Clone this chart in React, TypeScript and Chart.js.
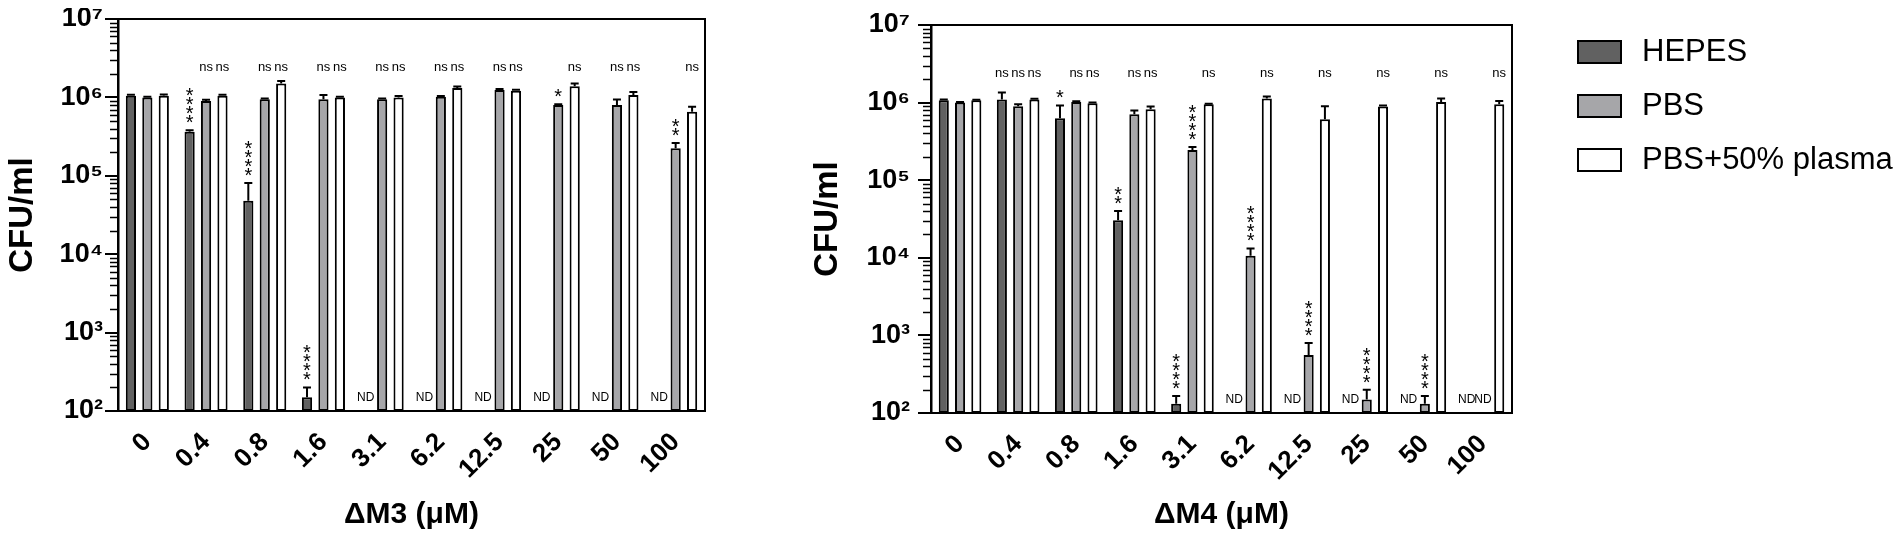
import { useEffect, useRef } from 'react';
import { Chart, registerables } from 'chart.js';

Chart.register(...registerables);

const FONT = '"Liberation Sans", Arial, Helvetica, sans-serif';

const doses = ['0', '0.4', '0.8', '1.6', '3.1', '6.2', '12.5', '25', '50', '100'];
const seriesNames = ['HEPES', 'PBS', 'PBS+50% plasma'];
const seriesColors = ['#616161', '#a6a6a9', '#ffffff'];

const yExponents = [2, 3, 4, 5, 6, 7];
const superscripts = ['⁰', '¹', '²', '³', '⁴', '⁵', '⁶', '⁷'];
const nsLevel = 2.4e6;

// ΔM3 panel
const m3Hepes = [1.05e6, 3.64e5, 4.8e4, 150, null, null, null, null, null, null];
const m3HepesErr = [1.08e6, 3.8e5, 8.1e4, 200, null, null, null, null, null, null];
const m3HepesMarks = ['', '****', '****', '****', 'ND', 'ND', 'ND', 'ND', 'ND', 'ND'];
const m3Pbs = [1.0e6, 9.0e5, 9.5e5, 9.5e5, 9.5e5, 1.02e6, 1.24e6, 8.0e5, 8.0e5, 2.24e5];
const m3PbsErr = [1.02e6, 9.3e5, 9.7e5, 1.07e6, 9.7e5, 1.04e6, 1.28e6, 8.2e5, 9.4e5, 2.63e5];
const m3PbsMarks = ['', 'ns', 'ns', 'ns', 'ns', 'ns', 'ns', '*', 'ns', '**'];
const m3Plasma = [1.05e6, 1.05e6, 1.5e6, 1.0e6, 1.0e6, 1.32e6, 1.22e6, 1.39e6, 1.07e6, 6.55e5];
const m3PlasmaErr = [1.09e6, 1.08e6, 1.62e6, 1.02e6, 1.04e6, 1.38e6, 1.25e6, 1.5e6, 1.17e6, 7.6e5];
const m3PlasmaMarks = ['', 'ns', 'ns', 'ns', 'ns', 'ns', 'ns', 'ns', 'ns', 'ns'];

// ΔM4 panel
const m4Hepes = [1.07e6, 1.1e6, 6.3e5, 3.05e4, 132, null, null, null, null, null];
const m4HepesErr = [1.1e6, 1.35e6, 9.2e5, 4.0e4, 166, null, null, null, null, null];
const m4HepesMarks = ['', 'ns', '*', '**', '****', 'ND', 'ND', 'ND', 'ND', 'ND'];
const m4Pbs = [1.0e6, 9.0e5, 1.02e6, 7.07e5, 2.45e5, 1.06e4, 557, 149, 132, null];
const m4PbsErr = [1.02e6, 9.5e5, 1.04e6, 7.9e5, 2.68e5, 1.32e4, 800, 200, 166, null];
const m4PbsMarks = ['', 'ns', 'ns', 'ns', '****', '****', '****', '****', '****', 'ND'];
const m4Plasma = [1.07e6, 1.1e6, 9.8e5, 8.2e5, 9.5e5, 1.13e6, 6.1e5, 8.9e5, 1.02e6, 9.5e5];
const m4PlasmaErr = [1.09e6, 1.12e6, 1.0e6, 8.9e5, 9.7e5, 1.2e6, 9.0e5, 9.2e5, 1.13e6, 1.05e6];
const m4PlasmaMarks = ['', 'ns', 'ns', 'ns', 'ns', 'ns', 'ns', 'ns', 'ns', 'ns'];

// error bars, significance marks, plot frame and minor log ticks
const markPlugin = {
  id: 'marks',
  afterDatasetsDraw(chart: any) {
    const { ctx, chartArea, scales } = chart;
    const y = scales.y;
    ctx.save();
    ctx.strokeStyle = '#000';
    ctx.lineWidth = 2;
    ctx.strokeRect(chartArea.left, chartArea.top, chartArea.right - chartArea.left, chartArea.bottom - chartArea.top);

    ctx.lineWidth = 1.5;
    for (let e = 2; e < 7; e++) {
      for (let m = 2; m <= 9; m++) {
        const py = Math.round(y.getPixelForValue(m * Math.pow(10, e))) + 0.5;
        ctx.beginPath();
        ctx.moveTo(chartArea.left - 8, py);
        ctx.lineTo(chartArea.left, py);
        ctx.stroke();
      }
    }

    ctx.font = `20px ${FONT}`;
    const star = ctx.measureText('*');
    const starMid = (star.actualBoundingBoxAscent - star.actualBoundingBoxDescent) / 2;

    chart.data.datasets.forEach((ds: any, i: number) => {
      const meta = chart.getDatasetMeta(i);
      meta.data.forEach((bar: any, j: number) => {
        const x = bar.x;
        const v = ds.data[j];
        const err = ds.errors[j];
        const mark = ds.marks[j];
        let top = chartArea.bottom;
        if (v != null) {
          top = y.getPixelForValue(v);
          if (err != null && err > v) {
            const ey = y.getPixelForValue(err);
            ctx.lineWidth = 2;
            ctx.strokeStyle = '#000';
            ctx.beginPath();
            ctx.moveTo(x, top);
            ctx.lineTo(x, ey);
            ctx.moveTo(x - 4, ey);
            ctx.lineTo(x + 4, ey);
            ctx.stroke();
            top = ey;
          }
        }
        ctx.fillStyle = '#000';
        ctx.textAlign = 'center';
        if (mark === 'ns') {
          ctx.font = `13px ${FONT}`;
          ctx.textBaseline = 'middle';
          ctx.fillText('ns', x, y.getPixelForValue(nsLevel));
        } else if (mark === 'ND') {
          ctx.font = `12px ${FONT}`;
          ctx.textBaseline = 'middle';
          ctx.fillText('ND', x, chartArea.bottom - 13);
        } else if (mark) {
          ctx.font = `20px ${FONT}`;
          ctx.textBaseline = 'alphabetic';
          for (let k = 0; k < mark.length; k++) {
            const cy = top - 11 - k * 9;
            ctx.fillText('*', x, cy + starMid);
          }
        }
      });
    });
    ctx.restore();
  },
};

const legendPlugin = {
  id: 'sideLegend',
  afterDraw(chart: any) {
    const { ctx, chartArea } = chart;
    ctx.save();
    chart.data.datasets.forEach((ds: any, i: number) => {
      const x = chartArea.right + 66;
      const cy = chartArea.top + 27 + i * 54;
      ctx.fillStyle = ds.backgroundColor;
      ctx.fillRect(x, cy - 11, 43, 22);
      ctx.strokeStyle = '#000';
      ctx.lineWidth = 2;
      ctx.strokeRect(x, cy - 11, 43, 22);
      ctx.fillStyle = '#000';
      ctx.font = `31px ${FONT}`;
      ctx.textAlign = 'left';
      ctx.textBaseline = 'middle';
      ctx.fillText(ds.label, x + 64, cy);
    });
    ctx.restore();
  },
};

interface PanelProps {
  title: string;
  values: (number | null)[][];
  errors: (number | null)[][];
  marks: string[][];
  pageLeft: number;
  width: number;
  axisWidth: number;
  tickPadding: number;
  plotTop: number;
  plotRight: number;
  xAxisHeight: number;
  legend?: boolean;
}

function Panel(props: PanelProps) {
  const canvasRef = useRef<HTMLCanvasElement>(null);

  useEffect(() => {
    if (!canvasRef.current) return;
    const chart = new Chart(canvasRef.current, {
      type: 'bar',
      data: {
        labels: doses,
        datasets: seriesNames.map((name, i) => ({
          label: name,
          data: props.values[i],
          errors: props.errors[i],
          marks: props.marks[i],
          backgroundColor: seriesColors[i],
          borderColor: '#000',
          borderWidth: 2,
          borderSkipped: false,
          categoryPercentage: 0.84,
          barPercentage: 0.62,
        })) as any,
      },
      options: {
        animation: false,
        responsive: true,
        maintainAspectRatio: false,
        layout: { padding: { left: 0, right: props.width - props.plotRight, top: props.plotTop, bottom: 0 } },
        plugins: { legend: { display: false }, tooltip: { enabled: false } },
        scales: {
          x: {
            grid: { display: false },
            border: { display: true, color: '#000', width: 2 },
            ticks: {
              color: '#000',
              font: { family: FONT, size: 26, weight: 'bold' },
              minRotation: 45,
              maxRotation: 45,
              padding: 8,
              autoSkip: false,
            },
            title: {
              display: true,
              text: props.title,
              color: '#000',
              font: { family: FONT, size: 30, weight: 'bold' },
              padding: { top: 0, bottom: 5 },
            },
            afterFit: (s: any) => { s.height = props.xAxisHeight; },
          },
          y: {
            type: 'logarithmic',
            min: 100,
            max: 1e7,
            grid: { display: true, drawOnChartArea: false, drawTicks: true, tickLength: 13, color: '#000', lineWidth: 2 },
            border: { display: true, color: '#000', width: 2.5 },
            afterBuildTicks: (s: any) => { s.ticks = yExponents.map((e) => ({ value: Math.pow(10, e) })); },
            ticks: {
              color: '#000',
              font: { family: FONT, size: 27, weight: 'bold' },
              padding: props.tickPadding,
              autoSkip: false,
              callback: (v: any) => '10' + superscripts[Math.round(Math.log10(Number(v)))],
            },
            title: {
              display: true,
              text: 'CFU/ml',
              color: '#000',
              font: { family: FONT, size: 33, weight: 'bold' },
              padding: { top: 3, bottom: 0 },
            },
            afterFit: (s: any) => { s.width = props.axisWidth; },
          },
        },
      },
      plugins: props.legend ? [markPlugin, legendPlugin] : [markPlugin],
    } as any);
    return () => chart.destroy();
  }, []);

  return (
    <div style={{ position: 'absolute', left: props.pageLeft - 8, top: -8, width: props.width, height: 538 }}>
      <canvas ref={canvasRef} />
    </div>
  );
}

export default function App() {
  return (
    <div style={{ position: 'relative', width: 1886, height: 522 }}>
      <Panel
        title="ΔM3 (μM)"
        values={[m3Hepes, m3Pbs, m3Plasma]}
        errors={[m3HepesErr, m3PbsErr, m3PlasmaErr]}
        marks={[m3HepesMarks, m3PbsMarks, m3PlasmaMarks]}
        pageLeft={0}
        width={760}
        axisWidth={118}
        tickPadding={2}
        plotTop={19}
        plotRight={705}
        xAxisHeight={127}
      />
      <Panel
        title="ΔM4 (μM)"
        values={[m4Hepes, m4Pbs, m4Plasma]}
        errors={[m4HepesErr, m4PbsErr, m4PlasmaErr]}
        marks={[m4HepesMarks, m4PbsMarks, m4PlasmaMarks]}
        pageLeft={805}
        width={1097}
        axisWidth={126}
        tickPadding={8}
        plotTop={25}
        plotRight={707}
        xAxisHeight={125}
        legend
      />
    </div>
  );
}
